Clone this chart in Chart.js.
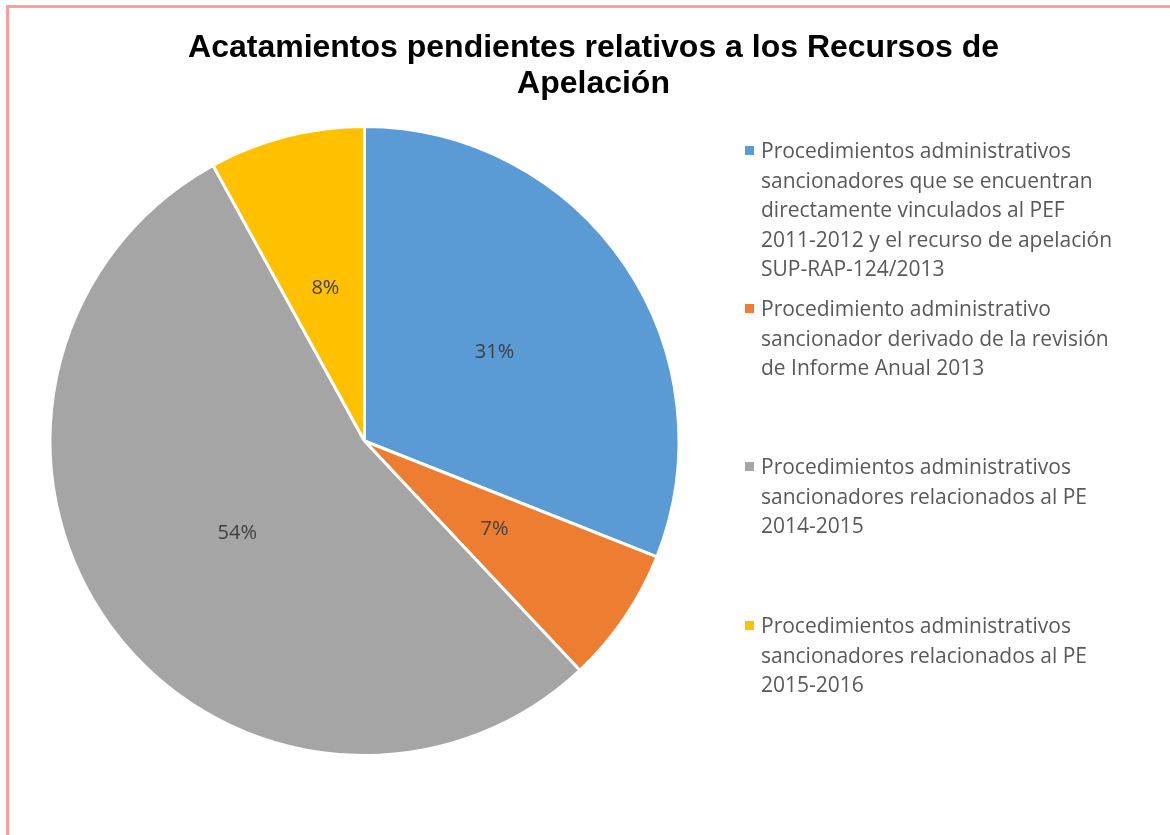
<!DOCTYPE html>
<html>
<head>
<meta charset="utf-8">
<script src="https://cdn.jsdelivr.net/npm/chart.js@4.4.0/dist/chart.umd.min.js"></script>
<style>
  html, body { margin: 0; padding: 0; background: #fff; }
  body { width: 1170px; height: 835px; position: relative; overflow: hidden; }
  #frame {
    position: absolute; left: 6px; top: 5px; width: 1200px; height: 900px;
    border: 3px solid #ff9c9c; box-sizing: border-box;
  }
  #title {
    position: absolute; left: 7px; width: 1173px; top: 28px;
    text-align: center; font-family: "Liberation Sans", Arial, sans-serif;
    font-weight: bold; font-size: 32px; line-height: 36px; color: #000;
  }
  #chartBox { position: absolute; left: 0; top: 0; width: 1170px; height: 835px; }
  .legend-item {
    position: absolute; left: 761px; font-family: "Open Sans", sans-serif;
    font-size: 21px; line-height: 29.5px; color: #595959; white-space: nowrap;
  }
  .legend-item .swatch {
    position: absolute; left: -16px; top: 10px; width: 9px; height: 9px;
  }
</style>
</head>
<body>
<div id="frame"></div>
<div id="chartBox"><canvas id="pieChart"></canvas></div>
<div id="title">Acatamientos pendientes relativos a los Recursos de<br>Apelación</div>
<div id="legend"></div>

<script>
// Data ----------------------------------------------------------------------->
const categories = [
  ["Procedimientos administrativos", "sancionadores que se encuentran", "directamente vinculados al PEF", "2011-2012 y el recurso de apelación", "SUP-RAP-124/2013"],
  ["Procedimiento administrativo", "sancionador derivado de la revisión", "de Informe Anual 2013"],
  ["Procedimientos administrativos", "sancionadores relacionados al PE", "2014-2015"],
  ["Procedimientos administrativos", "sancionadores relacionados al PE", "2015-2016"]
];
const percentages = [31, 7, 54, 8];
const sliceColors = ["#5b9bd5", "#ed7d31", "#a5a5a5", "#ffc000"];

// Legend tops (px) for each entry, matching the original spacing
const legendTops = [136, 294, 452, 611];

// Legend (HTML) -------------------------------------------------------------->
const legend = document.getElementById("legend");
categories.forEach((lines, i) => {
  const item = document.createElement("div");
  item.className = "legend-item";
  item.style.top = legendTops[i] + "px";
  const sw = document.createElement("span");
  sw.className = "swatch";
  sw.style.background = sliceColors[i];
  item.appendChild(sw);
  lines.forEach((line, j) => {
    if (j > 0) item.appendChild(document.createElement("br"));
    item.appendChild(document.createTextNode(line));
  });
  legend.appendChild(item);
});

// Percent labels inside the slices
const sliceLabels = {
  id: "sliceLabels",
  afterDatasetsDraw(chart) {
    const ctx = chart.ctx;
    const meta = chart.getDatasetMeta(0);
    ctx.save();
    ctx.font = '20px "Open Sans", sans-serif';
    ctx.fillStyle = "#404040";
    ctx.textAlign = "center";
    ctx.textBaseline = "middle";
    meta.data.forEach((arc, i) => {
      const p = arc.getCenterPoint();
      ctx.fillText(percentages[i] + "%", p.x, p.y);
    });
    ctx.restore();
  }
};

// Chart ---------------------------------------------------------------------->
const ctx = document.getElementById("pieChart").getContext("2d");
new Chart(ctx, {
  type: "pie",
  data: {
    labels: categories.map(l => l.join(" ")),
    datasets: [{
      data: percentages,
      backgroundColor: sliceColors,
      borderColor: "#ffffff",
      borderWidth: 3
    }]
  },
  options: {
    responsive: true,
    maintainAspectRatio: false,
    animation: false,
    rotation: 0,
    layout: { padding: { left: 48, top: 125, right: 489, bottom: 78 } },
    plugins: {
      legend: { display: false },
      title: { display: false },
      tooltip: { enabled: false }
    }
  },
  plugins: [sliceLabels]
});
</script>
</body>
</html>
